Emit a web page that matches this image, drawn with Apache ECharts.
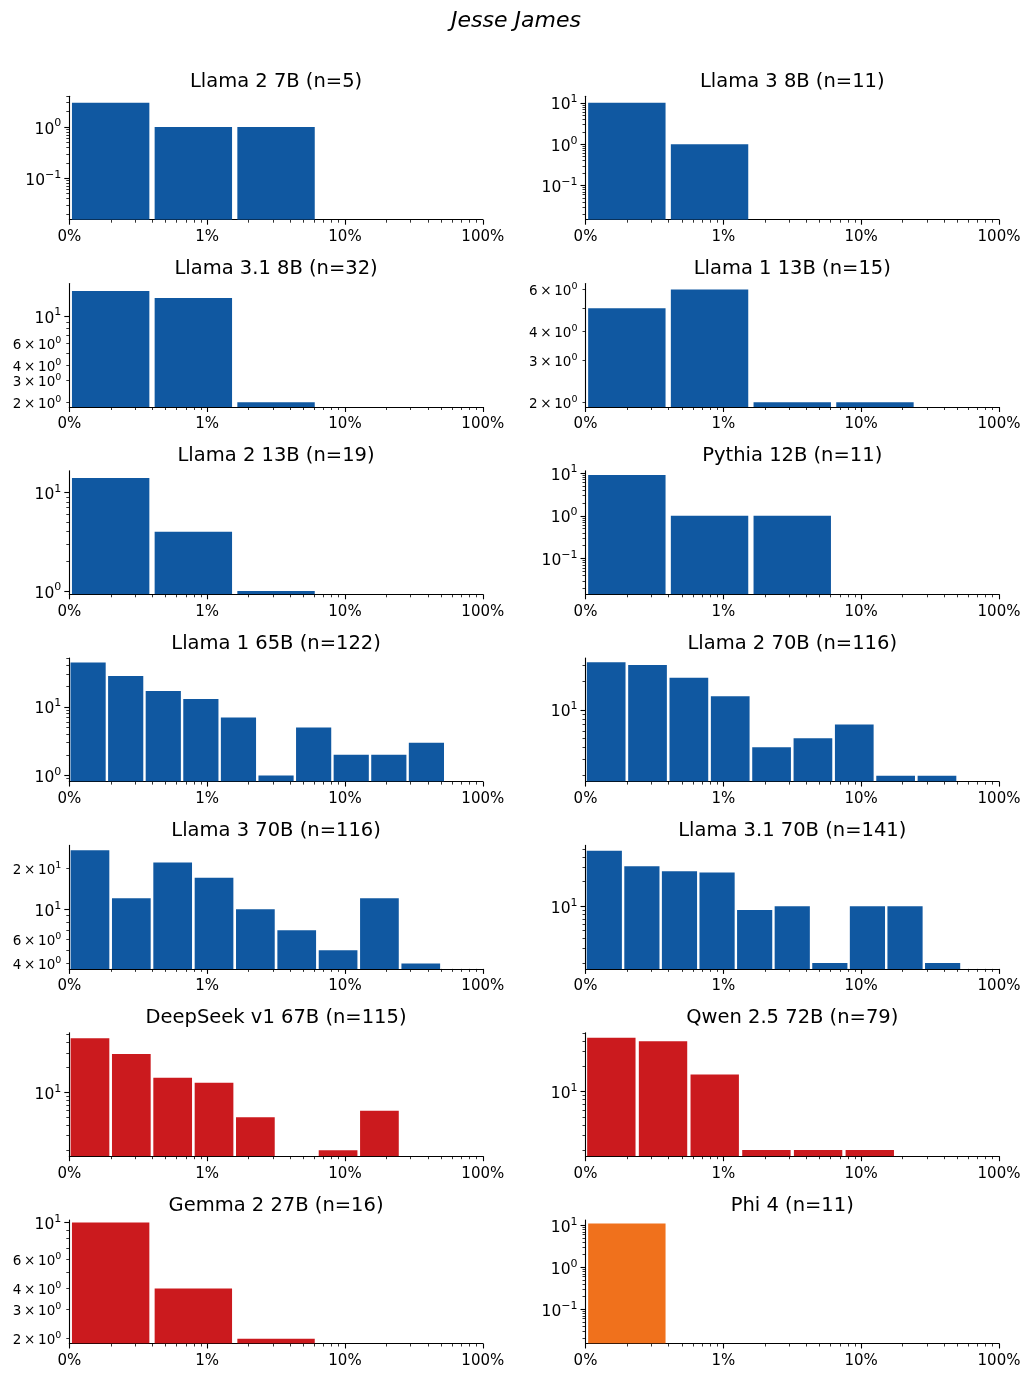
<!DOCTYPE html>
<html>
<head>
<meta charset="utf-8">
<title>Jesse James</title>
<script src="https://cdn.jsdelivr.net/npm/echarts@6/dist/echarts.min.js"></script>
<style>html, body { margin: 0; padding: 0; background: #fff; }</style>
</head>
<body>
<div id="container" style="width: 1032px; height: 1378px;"></div>
<script>
var FONT = 'DejaVu Sans';

var titles = ['Llama 2 7B (n=5)', 'Llama 3 8B (n=11)', 'Llama 3.1 8B (n=32)', 'Llama 1 13B (n=15)',
    'Llama 2 13B (n=19)', 'Pythia 12B (n=11)', 'Llama 1 65B (n=122)', 'Llama 2 70B (n=116)',
    'Llama 3 70B (n=116)', 'Llama 3.1 70B (n=141)', 'DeepSeek v1 67B (n=115)', 'Qwen 2.5 72B (n=79)',
    'Gemma 2 27B (n=16)', 'Phi 4 (n=11)'];

// counts per log-spaced bin, the bins span 0.1% .. 100%
var llama2_7b = [3, 1, 1, 0, 0];
var llama3_8b = [10, 1, 0, 0, 0];
var llama31_8b = [16, 14, 2, 0, 0];
var llama1_13b = [5, 6, 2, 2, 0];
var llama2_13b = [14, 4, 1, 0, 0];
var pythia_12b = [9, 1, 1, 0, 0];
var llama1_65b = [44, 28, 17, 13, 7, 1, 5, 2, 2, 3, 0];
var llama2_70b = [32, 30, 22, 14, 4, 5, 7, 2, 2, 0];
var llama3_70b = [27, 12, 22, 17, 10, 7, 5, 12, 4, 0];
var llama31_70b = [48, 31, 27, 26, 9, 10, 2, 10, 10, 2, 0];
var deepseek_67b = [45, 29, 15, 13, 5, 0, 2, 6, 0, 0];
var qwen25_72b = [44, 40, 16, 2, 2, 2, 0, 0];
var gemma2_27b = [10, 4, 2, 0, 0];
var phi4 = [11, 0, 0, 0, 0];

var panels = [llama2_7b, llama3_8b, llama31_8b, llama1_13b, llama2_13b, pythia_12b, llama1_65b,
    llama2_70b, llama3_70b, llama31_70b, deepseek_67b, qwen25_72b, gemma2_27b, phi4];

// y axis (log) limits of each panel
var yMin = [0.0154, 0.0149, 1.83, 1.91, 0.926, 0.0146, 0.818, 1.73, 3.65, 1.69, 1.69, 1.69, 1.87, 0.0153];
var yMax = [4.02, 14.5, 18.4, 6.36, 16.6, 11.3, 50.9, 35.5, 29.3, 56, 52.4, 50.5, 10.34, 13.4];

var xRange = [0.1, 100];
var xMajor = [0.1, 1, 10, 100];
var xMajorLabels = ['0%', '1%', '10%', '100%'];

var BLUE = '#1058a1', RED = '#cb1a1e', ORANGE = '#f0711c';
var colors = [BLUE, BLUE, BLUE, BLUE, BLUE, BLUE, BLUE, BLUE, BLUE, BLUE, RED, RED, RED, ORANGE];

// layout
var colLeft = [69.3, 585.5];
var colWidth = 413.5;
var rowTop0 = 96.2, rowStep = 187.3, rowH = 123.5;

function minorsBetween(lo, hi) {
    var out = [];
    for (var e = Math.floor(Math.log10(lo)) - 1; e <= Math.ceil(Math.log10(hi)); e++) {
        for (var m = 2; m <= 9; m++) {
            var v = m * Math.pow(10, e);
            if (v >= lo && v <= hi) out.push(v);
        }
    }
    return out;
}

function decadesBetween(lo, hi) {
    var out = [];
    for (var e = Math.floor(Math.log10(lo)) - 1; e <= Math.ceil(Math.log10(hi)); e++) {
        var v = Math.pow(10, e);
        if (v >= lo && v <= hi) out.push(v);
    }
    return out;
}

function yLabel(v) {
    var e = Math.floor(Math.log10(v) + 1e-9);
    var m = Math.round(v / Math.pow(10, e));
    var exp = e < 0 ? '\u2212' + (-e) : String(e);
    if (m === 1) return '{b|10}{s|' + exp + '}';
    return '{mb|' + m + '\u2009\u00d7\u200910}{ms|' + exp + '}';
}

function xLabel(v) {
    for (var k = 0; k < xMajor.length; k++) {
        if (Math.abs(v - xMajor[k]) / xMajor[k] < 1e-6) return xMajorLabels[k];
    }
    return '';
}

function renderBar(params, api) {
    var a = api.coord([api.value(0), api.value(2)]);
    var b = api.coord([api.value(1), api.value(2)]);
    var cs = params.coordSys;
    var bottom = cs.y + cs.height;
    var w = b[0] - a[0];
    var pad = w * 0.032;
    return {
        type: 'rect',
        shape: { x: a[0] + pad, y: a[1], width: w - 2 * pad, height: bottom - a[1] },
        style: { fill: api.visual('color') }
    };
}

function buildOption() {
    var grids = [], xAxes = [], yAxes = [], series = [];
    var titleList = [{
        text: 'Jesse James', left: 'center', top: 10, padding: 0,
        textStyle: { fontFamily: FONT, fontStyle: 'italic', fontWeight: 'normal', fontSize: 22, color: '#000' }
    }];

    for (var i = 0; i < panels.length; i++) {
        var col = i % 2, row = Math.floor(i / 2);
        var gridTop = rowTop0 + row * rowStep;
        grids.push({ left: colLeft[col], top: gridTop, width: colWidth, height: rowH });

        titleList.push({
            text: titles[i], left: colLeft[col] + colWidth / 2, textAlign: 'center', top: gridTop - 24.5, padding: 0,
            textStyle: { fontFamily: FONT, fontWeight: 'normal', fontSize: 19.5, color: '#000' }
        });

        // x: major ticks + labels, and a second axis only for the minor ticks
        xAxes.push({
            type: 'log', gridIndex: i, position: 'bottom', min: xRange[0], max: xRange[1],
            axisLine: { show: true, onZero: false, lineStyle: { color: '#000', width: 1.1 } },
            axisTick: { show: true, customValues: xMajor.slice(), length: 5, lineStyle: { color: '#000', width: 1.1 } },
            axisLabel: { show: true, customValues: xMajor.slice(), formatter: xLabel, margin: 10,
                fontFamily: FONT, fontSize: 15, color: '#000' },
            splitLine: { show: false }
        });
        xAxes.push({
            type: 'log', gridIndex: i, position: 'bottom', min: xRange[0], max: xRange[1],
            axisLine: { show: false },
            axisTick: { show: true, customValues: minorsBetween(xRange[0], xRange[1]), length: 3,
                lineStyle: { color: '#000', width: 0.8 } },
            axisLabel: { show: false },
            splitLine: { show: false }
        });

        var lo = yMin[i], hi = yMax[i];
        var labelVals = decadesBetween(lo, hi);
        // short ranges also get labels on some minor ticks
        if (Math.log10(hi / lo) <= 1.05) {
            minorsBetween(lo, hi).forEach(function (v) {
                var m = Math.round(v / Math.pow(10, Math.floor(Math.log10(v) + 1e-9)));
                if (m === 2 || m === 3 || m === 4 || m === 6) labelVals.push(v);
            });
        }
        yAxes.push({
            type: 'log', gridIndex: i, position: 'left', min: lo, max: hi,
            axisLine: { show: true, onZero: false, lineStyle: { color: '#000', width: 1.1 } },
            axisTick: { show: true, customValues: decadesBetween(lo, hi), length: 5, lineStyle: { color: '#000', width: 1.1 } },
            axisLabel: {
                show: true, customValues: labelVals, formatter: yLabel, margin: 8, color: '#000',
                rich: {
                    b: { fontFamily: FONT, fontSize: 15.5, lineHeight: 15.5, padding: [5, 0, 0, 0], color: '#000' },
                    s: { fontFamily: FONT, fontSize: 11, lineHeight: 11, padding: [0, 0, 7, 0], color: '#000' },
                    mb: { fontFamily: FONT, fontSize: 13.5, lineHeight: 13.5, padding: [4, 0, 0, 0], color: '#000' },
                    ms: { fontFamily: FONT, fontSize: 9.5, lineHeight: 9.5, padding: [0, 0, 6, 0], color: '#000' }
                }
            },
            splitLine: { show: false }
        });
        yAxes.push({
            type: 'log', gridIndex: i, position: 'left', min: lo, max: hi,
            axisLine: { show: false },
            axisTick: { show: true, customValues: minorsBetween(lo, hi), length: 3, lineStyle: { color: '#000', width: 0.8 } },
            axisLabel: { show: false },
            splitLine: { show: false }
        });

        var counts = panels[i];
        var nb = counts.length;
        var bars = [];
        for (var k = 0; k < nb; k++) {
            if (counts[k] > 0) {
                var x0 = xRange[0] * Math.pow(xRange[1] / xRange[0], k / nb);
                var x1 = xRange[0] * Math.pow(xRange[1] / xRange[0], (k + 1) / nb);
                bars.push([x0, x1, counts[k]]);
            }
        }
        series.push({
            type: 'custom', name: titles[i], xAxisIndex: 2 * i, yAxisIndex: 2 * i, clip: true,
            itemStyle: { color: colors[i] },
            encode: { x: [0, 1], y: 2 },
            renderItem: renderBar,
            data: bars
        });
    }

    return {
        animation: false,
        backgroundColor: '#fff',
        title: titleList,
        grid: grids,
        xAxis: xAxes,
        yAxis: yAxes,
        series: series
    };
}

var chart = echarts.init(document.getElementById('container'));
chart.setOption(buildOption());
</script>
</body>
</html>
